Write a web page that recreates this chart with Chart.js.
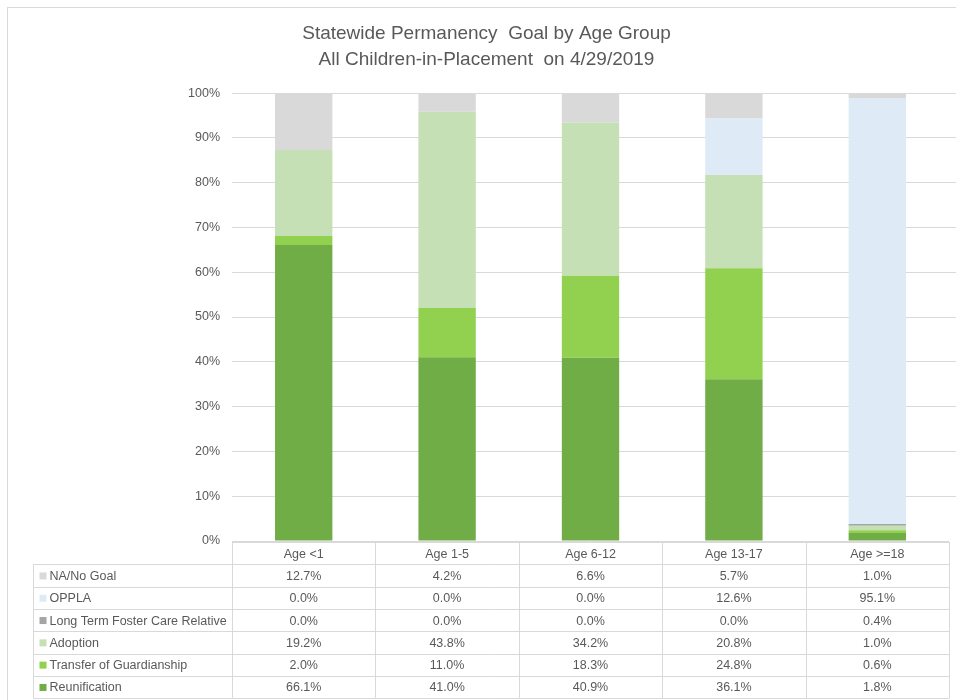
<!DOCTYPE html>
<html>
<head>
<meta charset="utf-8">
<script src="https://cdn.jsdelivr.net/npm/chart.js@4"></script>
<style>
  body { margin: 0; background: #fff; }
  #frame { position: absolute; left: 7px; top: 7px; width: 949px; height: 693px;
           border-left: 1px solid #d9d9d9; border-top: 1px solid #d9d9d9; }
  #wrap { position: absolute; left: 0; top: 0; width: 948px; height: 692px; }
</style>
</head>
<body>
<div id="frame"><div id="wrap"><canvas id="chart"></canvas></div></div>
<script>
// categorias e series (percentual por faixa etaria)
const categories = ["Age <1", "Age 1-5", "Age 6-12", "Age 13-17", "Age >=18"];
const naNoGoal = [12.7, 4.2, 6.6, 5.7, 1.0];
const oppla = [0.0, 0.0, 0.0, 12.6, 95.1];
const longTermFosterCare = [0.0, 0.0, 0.0, 0.0, 0.4];
const adoption = [19.2, 43.8, 34.2, 20.8, 1.0];
const transferOfGuardianship = [2.0, 11.0, 18.3, 24.8, 0.6];
const reunification = [66.1, 41.0, 40.9, 36.1, 1.8];

const titleLines = ["Statewide Permanency  Goal by Age Group", "All Children-in-Placement  on 4/29/2019"];

const FONT = "'Liberation Sans', Arial, sans-serif";
const TEXT = "#595959";
const GRID = "#d9d9d9";

// ordem de empilhamento: primeiro dataset fica embaixo
const series = [
  { label: "Reunification", data: reunification, color: "#70ad47" },
  { label: "Transfer of Guardianship", data: transferOfGuardianship, color: "#92d050" },
  { label: "Adoption", data: adoption, color: "#c5e0b4" },
  { label: "Long Term Foster Care Relative", data: longTermFosterCare, color: "#a5a5a5" },
  { label: "OPPLA", data: oppla, color: "#deebf7" },
  { label: "NA/No Goal", data: naNoGoal, color: "#d9d9d9" }
];

// prolonga as linhas de grade ate a borda direita (como no Excel)
const gridExtendPlugin = {
  id: "gridExtend",
  beforeDatasetsDraw(chart) {
    const ctx = chart.ctx;
    const ys = chart.scales.y;
    const area = chart.chartArea;
    ctx.save();
    ctx.strokeStyle = GRID;
    ctx.lineWidth = 1;
    ctx.beginPath();
    ys.ticks.forEach(t => {
      if (t.value === 0) return;
      const y = Math.round(ys.getPixelForValue(t.value) - 0.5) + 0.5;
      ctx.moveTo(area.right, y);
      ctx.lineTo(chart.width, y);
    });
    ctx.stroke();
    ctx.restore();
  }
};

// tabela de dados abaixo do grafico, desenhada com a escala x
const dataTablePlugin = {
  id: "dataTable",
  afterDraw(chart) {
    const ctx = chart.ctx;
    const xs = chart.scales.x;
    const area = chart.chartArea;
    const colW = xs.getPixelForValue(1) - xs.getPixelForValue(0);
    const left = xs.getPixelForValue(0) - colW / 2;
    const right = left + colW * categories.length;
    const top = area.bottom + 1;
    const rowH = 22.3;
    const tableLeft = 25.5;
    const rows = series.slice().reverse();

    ctx.save();
    ctx.strokeStyle = GRID;
    ctx.lineWidth = 1;
    ctx.beginPath();
    // linha superior do cabecalho
    ctx.moveTo(left, Math.round(top) + 0.5);
    ctx.lineTo(right, Math.round(top) + 0.5);
    for (let r = 1; r <= rows.length + 1; r++) {
      const y = Math.round(top + r * rowH) + 0.5;
      ctx.moveTo(tableLeft, y);
      ctx.lineTo(right, y);
    }
    const bottom = Math.round(top + (rows.length + 1) * rowH) + 0.5;
    ctx.moveTo(tableLeft, Math.round(top + rowH) + 0.5);
    ctx.lineTo(tableLeft, bottom);
    for (let c = 0; c <= categories.length; c++) {
      const x = Math.round(left + c * colW) + 0.5;
      ctx.moveTo(x, top);
      ctx.lineTo(x, bottom);
    }
    ctx.stroke();

    ctx.font = "12.5px " + FONT;
    ctx.fillStyle = TEXT;
    ctx.textBaseline = "middle";
    ctx.textAlign = "center";
    categories.forEach((cat, i) => {
      ctx.fillText(cat, xs.getPixelForValue(i), top + rowH / 2 + 1);
    });

    rows.forEach((s, r) => {
      const yMid = top + (r + 1) * rowH + rowH / 2 + 1;
      ctx.fillStyle = s.color;
      ctx.fillRect(tableLeft + 6, yMid - 4, 7, 7);
      ctx.fillStyle = TEXT;
      ctx.textAlign = "left";
      ctx.fillText(s.label, tableLeft + 16, yMid);
      ctx.textAlign = "center";
      s.data.forEach((v, i) => {
        ctx.fillText(v.toFixed(1) + "%", xs.getPixelForValue(i), yMid);
      });
    });
    ctx.restore();
  }
};

new Chart(document.getElementById("chart"), {
  type: "bar",
  data: {
    labels: categories,
    datasets: series.map(s => ({
      label: s.label,
      data: s.data,
      backgroundColor: s.color,
      borderWidth: 0,
      barPercentage: 0.4,
      categoryPercentage: 1.0
    }))
  },
  options: {
    responsive: true,
    maintainAspectRatio: false,
    animation: false,
    layout: { padding: { left: 16, right: 7, top: 0, bottom: 159 } },
    plugins: {
      legend: { display: false },
      tooltip: { enabled: false },
      title: {
        display: true,
        text: titleLines,
        color: TEXT,
        font: { family: FONT, size: 19, weight: "normal", lineHeight: 1.37 },
        padding: { top: 13, bottom: 20 }
      }
    },
    scales: {
      x: { display: false, stacked: true },
      y: {
        stacked: true,
        min: 0,
        max: 100,
        border: { display: false },
        grid: { color: GRID, drawTicks: false },
        ticks: {
          stepSize: 10,
          padding: 12,
          color: TEXT,
          font: { family: FONT, size: 12.5 },
          callback: v => v + "%"
        },
        afterFit: s => { s.width = 208; }
      }
    }
  },
  plugins: [gridExtendPlugin, dataTablePlugin]
});
</script>
</body>
</html>
